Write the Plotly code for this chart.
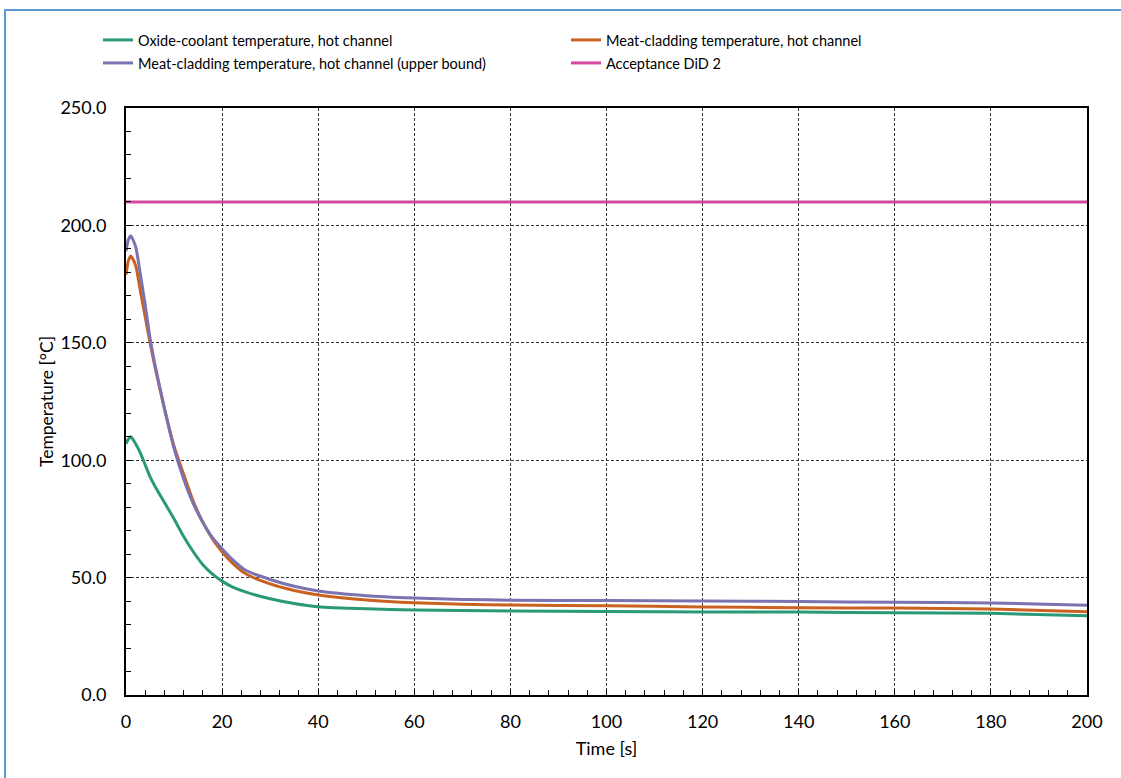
import plotly.graph_objects as go

time_s = [0, 0.5, 1, 2, 3, 4, 5, 6, 8, 10, 12, 14, 16, 18, 20, 22, 25, 30, 35, 40,
          50, 60, 70, 80, 100, 120, 140, 160, 180, 200]

oxide_coolant = [107, 109, 110, 107, 103, 98, 93, 89, 82, 75, 67.5, 61, 55.5, 51.5, 48.5, 46.2,
                 43.8, 41, 39, 37.6, 36.7, 36.2, 36.0, 35.8, 35.6, 35.4, 35.3, 35.0, 34.8, 33.8]

meat_cladding = [179, 185, 187, 183, 172, 161, 150, 140, 122, 106, 94, 82.5, 73.5, 66.5, 61, 56.5,
                 51.5, 47.3, 44.5, 42.6, 40.5, 39.3, 38.7, 38.3, 38.0, 37.5, 37.2, 37.0, 36.6, 35.5]

meat_cladding_ub = [189, 194, 195.5, 191, 179, 166, 152, 141, 122, 105, 92, 81.5, 73.5, 67, 62.3, 58,
                    53, 49.2, 46.3, 44.3, 42.3, 41.3, 40.7, 40.4, 40.2, 40.0, 39.8, 39.5, 39.2, 38.2]

acceptance_t = [0, 200]
acceptance_val = [210, 210]

names = ["Oxide-coolant temperature, hot channel",
         "Meat-cladding temperature, hot channel",
         "Meat-cladding temperature, hot channel (upper bound)",
         "Acceptance DiD 2"]
colors = ["#2A9A76", "#C9621E", "#7B72B0", "#D4489F"]

y_ticks = [0, 50, 100, 150, 200, 250]
x_ticks = list(range(0, 201, 20))

FONT = "Lato"

fig = go.Figure()
fig.add_trace(go.Scatter(x=acceptance_t, y=acceptance_val, mode="lines", name=names[3],
                         line=dict(color=colors[3], width=3), legend="legend2", legendrank=2))
fig.add_trace(go.Scatter(x=time_s, y=oxide_coolant, mode="lines", name=names[0],
                         line=dict(color=colors[0], width=3, shape="spline", smoothing=0.6),
                         legend="legend", legendrank=1))
fig.add_trace(go.Scatter(x=time_s, y=meat_cladding, mode="lines", name=names[1],
                         line=dict(color=colors[1], width=3, shape="spline", smoothing=0.6),
                         legend="legend", legendrank=2))
fig.add_trace(go.Scatter(x=time_s, y=meat_cladding_ub, mode="lines", name=names[2],
                         line=dict(color=colors[2], width=3, shape="spline", smoothing=0.6),
                         legend="legend2", legendrank=1))

L, R, T, B = 126, 1121 - 1087, 108, 778 - 695
W, H = 1121, 778
pw, ph = W - L - R, H - T - B

def px_x(p):
    return (p - L) / pw

def px_y(p):
    return (H - B - p) / ph

legend_common = dict(orientation="h", xanchor="left", yanchor="middle",
                     entrywidth=423, entrywidthmode="pixels",
                     font=dict(family=FONT, size=14.5, color="#000000"),
                     bgcolor="rgba(0,0,0,0)", traceorder="normal", itemwidth=30)

fig.update_layout(
    width=W, height=H,
    margin=dict(l=L, r=R, t=T, b=B, autoexpand=False),
    paper_bgcolor="white", plot_bgcolor="white",
    font=dict(family=FONT, size=15, color="#000000"),
    showlegend=True,
    legend=dict(x=px_x(98), y=px_y(40), **legend_common),
    legend2=dict(x=px_x(98), y=px_y(63), **legend_common),
    xaxis=dict(
        range=[0, 200], tickvals=x_ticks, ticktext=[str(v) for v in x_ticks],
        showline=True, linecolor="black", linewidth=2, mirror=True,
        ticks="inside", ticklen=5, tickcolor="black", tickwidth=1,
        minor=dict(dtick=4, tick0=0, ticks="inside", ticklen=5, tickcolor="black", showgrid=False),
        showgrid=True, gridcolor="#333333", gridwidth=1, griddash="3px,2px",
        zeroline=False, ticklabelstandoff=9,
        tickfont=dict(family=FONT, size=18),
        title=dict(text="Time [s]", font=dict(family=FONT, size=18), standoff=12),
    ),
    yaxis=dict(
        range=[0, 250], tickvals=y_ticks, ticktext=[f"{v:.1f}" for v in y_ticks],
        showline=True, linecolor="black", linewidth=2, mirror=True,
        ticks="inside", ticklen=5, tickcolor="black", tickwidth=1,
        minor=dict(dtick=10, tick0=0, ticks="inside", ticklen=5, tickcolor="black", showgrid=False),
        showgrid=True, gridcolor="#333333", gridwidth=1, griddash="3px,2px",
        zeroline=False, ticklabelstandoff=14,
        tickfont=dict(family=FONT, size=18),
        title=dict(text="Temperature [°C]", font=dict(family=FONT, size=17.5), standoff=2),
    ),
    shapes=[dict(type="rect", xref="paper", yref="paper",
                 x0=px_x(5), x1=px_x(1130), y0=px_y(790), y1=px_y(10),
                 line=dict(color="#5B9BD5", width=2), fillcolor="rgba(0,0,0,0)", layer="below")],
)

fig.write_html("out.html", config={"displayModeBar": False},
               post_script="document.body.style.margin='0';")
